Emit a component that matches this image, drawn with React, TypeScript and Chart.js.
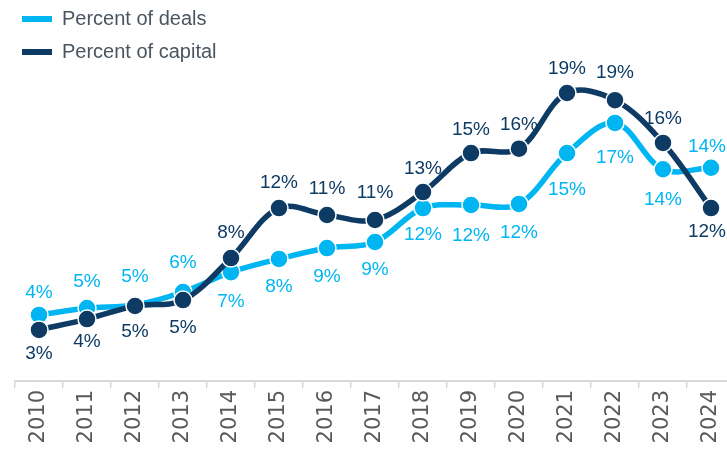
import React, { useEffect, useRef } from 'react';
import { Chart, registerables } from 'chart.js';

Chart.register(...registerables);

// ---- data ----
const years = ['2010', '2011', '2012', '2013', '2014', '2015', '2016', '2017', '2018', '2019', '2020', '2021', '2022', '2023', '2024'];
const percentOfDeals = [4.29, 4.76, 4.97, 5.85, 7.2, 8.1, 8.84, 9.25, 11.56, 11.77, 11.84, 15.3, 17.35, 14.2, 14.3];
const percentOfCapital = [3.27, 4.01, 4.9, 5.3, 8.16, 11.56, 11.09, 10.75, 12.65, 15.3, 15.6, 19.39, 18.9, 15.99, 11.56];

// label placement (pixel offset from point: negative = above, positive = below)
const dealsLabelOffsets = [-22, -26, -28, -29, 30, 28, 29, 28, 27, 31, 29, 37, 35, 31, -21];
const capitalLabelOffsets = [24, 23, 26, 28, -25, -25, -26, -27, -23, -23, -24, -24, -27, -24, 24];

const Y_MIN = -0.204;
const Y_MAX = 25.714;

const LIGHT = '#00B6F2';
const NAVY = '#0E3B64';
const FONT = '"Liberation Sans", Arial, sans-serif';
const AXIS_FONT = '"DejaVu Sans", "Liberation Sans", sans-serif';
const VIEW_W = 727;

const dataLabelPlugin = {
  id: 'pointValueLabels',
  afterDatasetsDraw(chart: any) {
    const ctx = chart.ctx;
    chart.data.datasets.forEach((ds: any, i: number) => {
      const meta = chart.getDatasetMeta(i);
      const offsets: number[] = ds.labelOffsets || [];
      ctx.save();
      ctx.font = `19px ${FONT}`;
      ctx.fillStyle = ds.labelColor;
      ctx.textAlign = 'center';
      ctx.textBaseline = 'middle';
      meta.data.forEach((pt: any, j: number) => {
        const text = Math.round(ds.data[j]) + '%';
        const w = ctx.measureText(text).width;
        let x = pt.x;
        const maxX = VIEW_W - w / 2 - 1;
        if (x > maxX) x = maxX;
        ctx.fillText(text, x, pt.y + (offsets[j] || 0));
      });
      ctx.restore();
    });
  },
};

// nudge the in-chart-area legend slightly up and left
const legendNudge = {
  id: 'legendNudge',
  afterLayout(chart: any) {
    if (chart.legend) {
      chart.legend.top -= 4;
      chart.legend.bottom -= 4;
      chart.legend.left -= 6;
      chart.legend.right -= 6;
    }
  },
};

export default function App() {
  const ref = useRef<HTMLCanvasElement>(null);

  useEffect(() => {
    if (!ref.current) return;
    const chart = new Chart(ref.current, {
      type: 'line',
      data: {
        labels: years,
        datasets: [
          {
            label: 'Percent of deals',
            data: percentOfDeals,
            borderColor: LIGHT,
            backgroundColor: LIGHT,
            borderWidth: 5.5,
            borderCapStyle: 'round',
            tension: 0.35,
            pointRadius: 9,
            pointBackgroundColor: LIGHT,
            pointBorderColor: '#FFFFFF',
            pointBorderWidth: 1.5,
            order: 1,
            labelOffsets: dealsLabelOffsets,
            labelColor: LIGHT,
          } as any,
          {
            label: 'Percent of capital',
            data: percentOfCapital,
            borderColor: NAVY,
            backgroundColor: NAVY,
            borderWidth: 5.5,
            borderCapStyle: 'round',
            tension: 0.35,
            pointRadius: 9,
            pointBackgroundColor: NAVY,
            pointBorderColor: '#FFFFFF',
            pointBorderWidth: 1.5,
            order: 0,
            labelOffsets: capitalLabelOffsets,
            labelColor: NAVY,
          } as any,
        ],
      },
      options: {
        responsive: false,
        animation: false,
        devicePixelRatio: 1,
        layout: { autoPadding: false, padding: { left: 15, right: 10, top: 0, bottom: 0 } },
        plugins: {
          legend: {
            position: 'chartArea',
            align: 'start',
            labels: {
              usePointStyle: true,
              pointStyle: 'line',
              pointStyleWidth: 30,
              padding: 13,
              color: '#4A5560',
              font: { size: 20, family: FONT },
              generateLabels: (c: any) => {
                const items = Chart.defaults.plugins.legend.labels.generateLabels(c);
                return items.map((it: any) => {
                  const ds: any = c.data.datasets[it.datasetIndex];
                  return {
                    ...it,
                    strokeStyle: ds.borderColor,
                    fillStyle: ds.borderColor,
                    lineWidth: 6,
                    lineCap: 'butt',
                    pointStyle: 'line',
                  };
                });
              },
              sort: (a: any, b: any) => a.datasetIndex - b.datasetIndex,
            },
          },
          tooltip: { enabled: false },
        },
        scales: {
          x: {
            offset: true,
            grid: {
              offset: true,
              drawOnChartArea: false,
              drawTicks: true,
              tickLength: 7,
              color: '#D9D9D9',
              lineWidth: 1.5,
            },
            border: { display: true, color: '#D9D9D9', width: 2 },
            ticks: {
              color: '#595959',
              font: { size: 21, family: AXIS_FONT },
              minRotation: 90,
              maxRotation: 90,
              padding: 2,
              autoSkip: false,
            },
            afterFit: (s: any) => {
              s.height = 89;
            },
          },
          y: { display: false, min: Y_MIN, max: Y_MAX },
        },
      } as any,
      plugins: [dataLabelPlugin, legendNudge],
    });
    return () => chart.destroy();
  }, []);

  return (
    <div
      style={{
        position: 'fixed',
        left: 0,
        top: 0,
        width: VIEW_W,
        height: 449,
        overflow: 'hidden',
        background: '#FFFFFF',
      }}
    >
      <canvas ref={ref} width={745} height={470} style={{ display: 'block', width: 745, height: 470 }} />
    </div>
  );
}
